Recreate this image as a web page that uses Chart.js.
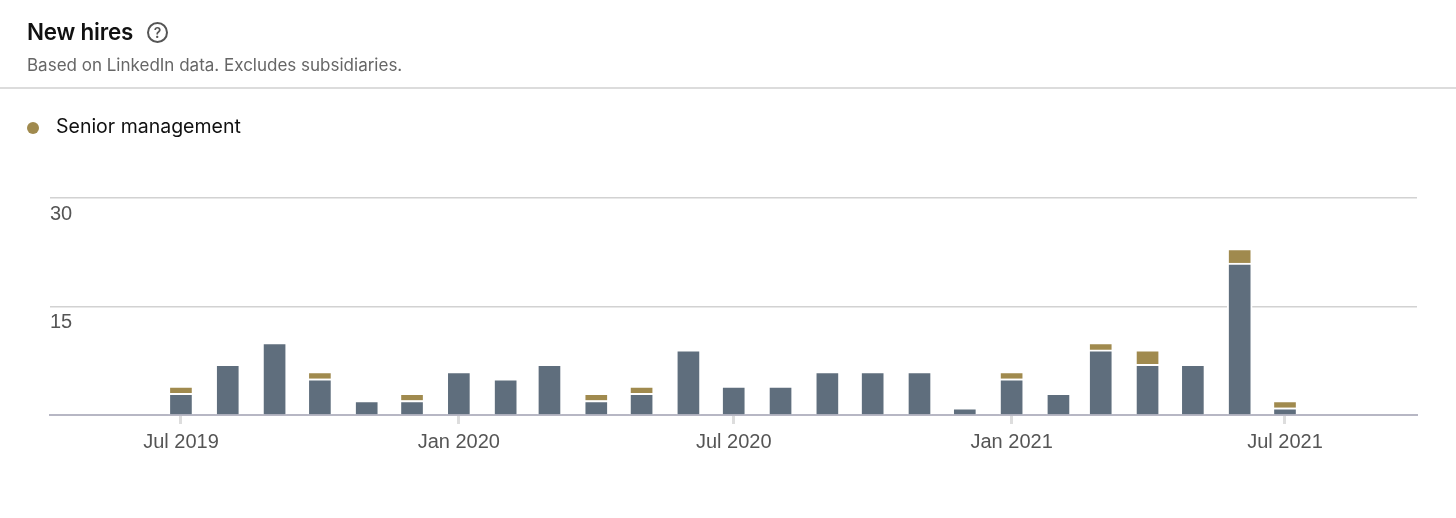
<!DOCTYPE html>
<html>
<head>
<meta charset="utf-8">
<title>New hires</title>
<script src="https://cdn.jsdelivr.net/npm/chart.js@4"></script>
<style>
  html, body { margin: 0; padding: 0; background: #fff; }
  body { width: 1456px; height: 518px; position: relative; overflow: hidden; font-family: Inter, sans-serif; }
  .title { position: absolute; left: 27px; top: 18px; font-size: 22.4px; line-height: 28px; font-weight: 600; color: #111; letter-spacing: -0.2px; }
  .help { position: absolute; left: 147px; top: 22px; width: 17px; height: 17px; border: 2px solid #555; border-radius: 50%; font-size: 14px; line-height: 17px; text-align: center; font-weight: 600; color: #555; }
  .sub { position: absolute; left: 27px; top: 54px; font-size: 17px; line-height: 22px; color: #666; }
  .rule { position: absolute; left: 0; top: 87px; width: 1456px; height: 2px; background: #dcdcdc; }
  .dot { position: absolute; left: 27px; top: 122px; width: 12px; height: 12px; border-radius: 50%; background: #a08a4e; }
  .legend { position: absolute; left: 56px; top: 113px; font-size: 19.5px; line-height: 26px; color: #111; }
  canvas { position: absolute; left: 0; top: 0; }
</style>
</head>
<body>
<canvas id="hiresChart" width="1456" height="518"></canvas>
<div class="title">New hires</div>
<div class="help">?</div>
<div class="sub">Based on LinkedIn data. Excludes subsidiaries.</div>
<div class="rule"></div>
<div class="dot"></div>
<div class="legend">Senior management</div>
<script>
const months = ['Jul 2019', 'Aug 2019', 'Sep 2019', 'Oct 2019', 'Nov 2019', 'Dec 2019', 'Jan 2020', 'Feb 2020', 'Mar 2020',
    'Apr 2020', 'May 2020', 'Jun 2020', 'Jul 2020', 'Aug 2020', 'Sep 2020', 'Oct 2020', 'Nov 2020', 'Dec 2020',
    'Jan 2021', 'Feb 2021', 'Mar 2021', 'Apr 2021', 'May 2021', 'Jun 2021', 'Jul 2021'];
const otherHires = [3, 7, 10, 5, 2, 2, 6, 5, 7, 2, 3, 9, 4, 4, 6, 6, 6, 1, 5, 3, 9, 7, 7, 21, 1];
const seniorHires = [1, null, null, 1, null, 1, null, null, null, 1, 1, null, null, null, null, null, null, null, 1, null, 1, 2, null, 2, 1];
const labelledMonths = ['Jul 2019', 'Jan 2020', 'Jul 2020', 'Jan 2021', 'Jul 2021'];
const yTicks = [0, 15, 30];

const fontFamily = '"Liberation Sans", Arial, sans-serif';

// the axis is real time (months are not equal width), x = days since the first month
const dayOf = month => (Date.parse('1 ' + month + ' UTC') - Date.parse('1 ' + months[0] + ' UTC')) / 86400000;
const toPoints = values => values.map((v, i) => ({ x: dayOf(months[i]), y: v }));

// white top and sides on every segment, that is what cuts the gridline and separates the stack
const segmentBorder = { left: 2, right: 2, top: 2, bottom: 0 };

new Chart(document.getElementById('hiresChart').getContext('2d'), {
    type: 'bar',
    data: {
        datasets: [{
            label: 'All hires',
            data: toPoints(otherHires),
            backgroundColor: '#5f6e7d',
            borderColor: '#ffffff',
            borderWidth: segmentBorder,
            borderSkipped: false,
            barThickness: 25
        }, {
            label: 'Senior management',
            data: toPoints(seniorHires),
            backgroundColor: '#a08a4e',
            borderColor: '#ffffff',
            borderWidth: segmentBorder,
            borderSkipped: false,
            barThickness: 25
        }]
    },
    options: {
        responsive: false,
        animation: false,
        layout: { padding: { left: 50, right: 39, top: 198, bottom: 0 } },
        plugins: {
            legend: { display: false },
            tooltip: { callbacks: { title: items => months[items[0].dataIndex] } }
        },
        scales: {
            x: {
                type: 'linear',
                stacked: true,
                offset: false,
                min: -86.7,
                max: 818.4,
                afterBuildTicks: scale => {
                    scale.ticks = labelledMonths.map(m => ({ value: dayOf(m) }));
                },
                afterFit: scale => { scale.height = 103; },
                grid: { offset: false, drawOnChartArea: false, drawTicks: true, tickLength: 9, tickWidth: 3, tickColor: '#dddddd' },
                border: { color: '#b7b7c4', width: 2 },
                ticks: {
                    autoSkip: false,
                    maxRotation: 0,
                    padding: 6,
                    color: '#555555',
                    font: { family: fontFamily, size: 20 },
                    callback: value => months.find(m => dayOf(m) === value)
                }
            },
            y: {
                stacked: true,
                min: 0,
                max: 30,
                afterBuildTicks: scale => {
                    scale.ticks = yTicks.map(v => ({ value: v }));
                },
                afterFit: scale => { scale.width = 0; },
                grid: { color: '#d2d2d2', lineWidth: 1.5, drawTicks: false },
                border: { display: false },
                ticks: {
                    mirror: true,
                    padding: 0,
                    labelOffset: 16,
                    color: '#555555',
                    font: { family: fontFamily, size: 20 },
                    callback: value => (value === 0 ? '' : value)
                }
            }
        }
    }
});
</script>
</body>
</html>
